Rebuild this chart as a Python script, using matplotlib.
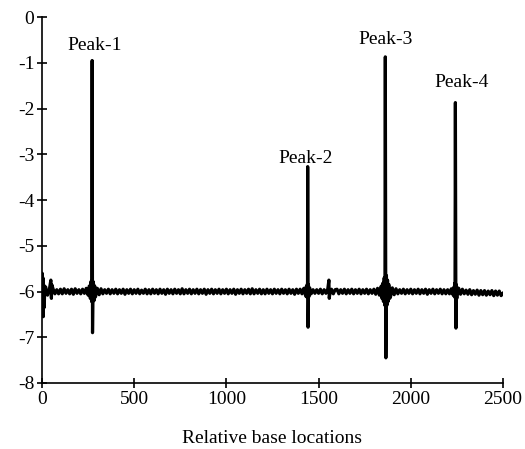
import matplotlib
matplotlib.use("Agg")
import matplotlib.pyplot as plt

plt.rcParams['font.family'] = ['Liberation Serif', 'DejaVu Serif']
plt.rcParams['axes.unicode_minus'] = False

grid_step = 10
grid_y = [
    -6.00, -6.30, -5.90, -6.08, -5.95, -6.06, -5.94, -6.05, -5.96, -6.05,
    -5.95, -6.05, -5.94, -6.04, -5.96, -6.05, -5.95, -6.06, -5.94, -6.04,
    -5.96, -6.05, -5.95, -6.04, -5.93, -6.08, -5.88, -6.15, -5.85, -6.12,
    -5.93, -6.07, -5.94, -6.05, -5.96, -6.04, -5.95, -6.05, -5.96, -6.04,
    -5.95, -6.05, -5.96, -6.04, -5.95, -6.06, -5.96, -6.04, -5.95, -6.05,
    -5.96, -6.04, -5.95, -6.05, -5.97, -6.04, -5.95, -6.05, -5.96, -6.05,
    -5.95, -6.04, -5.96, -6.05, -5.95, -6.04, -5.96, -6.06, -5.95, -6.04,
    -5.96, -6.05, -5.95, -6.04, -5.96, -6.05, -5.94, -6.05, -5.96, -6.04,
    -5.95, -6.05, -5.96, -6.04, -5.95, -6.05, -5.96, -6.04, -5.95, -6.06,
    -5.96, -6.04, -5.95, -6.05, -5.96, -6.04, -5.95, -6.05, -5.96, -6.04,
    -5.95, -6.05, -5.96, -6.04, -5.95, -6.06, -5.96, -6.04, -5.95, -6.05,
    -5.96, -6.04, -5.95, -6.05, -5.94, -6.05, -5.96, -6.04, -5.95, -6.05,
    -5.96, -6.05, -5.95, -6.04, -5.96, -6.05, -5.95, -6.04, -5.96, -6.05,
    -5.95, -6.04, -5.96, -6.05, -5.95, -6.04, -5.96, -6.06, -5.95, -6.04,
    -5.95, -6.05, -5.93, -6.10, -6.08, -5.93, -6.05, -5.96, -6.04, -5.96,
    -6.04, -5.95, -6.05, -5.96, -6.04, -5.94, -6.08, -5.95, -6.05, -5.96,
    -5.95, -6.05, -5.96, -6.04, -5.95, -6.05, -5.96, -6.04, -5.95, -6.05,
    -5.96, -6.04, -5.95, -6.05, -5.96, -6.04, -5.95, -6.05, -5.96, -6.04,
    -5.95, -6.06, -5.93, -6.08, -5.88, -6.15, -5.80, -6.22, -5.85, -6.12,
    -5.92, -6.07, -5.94, -6.05, -5.96, -6.04, -5.95, -6.05, -5.96, -6.04,
    -5.95, -6.05, -5.96, -6.04, -5.95, -6.05, -5.96, -6.04, -5.95, -6.06,
    -5.96, -6.04, -5.95, -6.05, -5.96, -6.04, -5.95, -6.05, -5.96, -6.05,
    -5.96, -6.05, -5.94, -6.08, -5.88, -6.12, -5.93, -6.06, -5.95, -6.05,
    -5.97, -6.06, -5.96, -6.07, -5.98, -6.06, -5.97, -6.08, -5.98, -6.07,
    -5.98, -6.08, -5.99, -6.07, -5.98, -6.09, -5.99, -6.08, -5.99, -6.09,
    -6.04,
]
grid_x = [i * grid_step for i in range(len(grid_y))]

# Spikes and bursts between the sampled points
spike_x = [1, 3, 5, 7, 9, 12, 15, 48, 51, 53,
           256, 262, 266, 269, 272, 274, 277, 282, 286,
           1432, 1436, 1438, 1441, 1443, 1445, 1447, 1452, 1556, 1558,
           1844, 1848, 1852, 1856, 1859, 1862, 1865, 1868, 1871, 1874, 1877, 1882, 1886,
           2234, 2237, 2239, 2242, 2245, 2247, 2250, 2254]
spike_y = [-5.60, -6.50, -5.70, -6.55, -5.85, -6.35, -5.90, -5.75, -6.15, -5.85,
           -5.88, -6.15, -5.78, -6.22, -0.95, -6.90, -5.78, -6.20, -5.88,
           -5.90, -6.12, -5.85, -3.27, -6.78, -5.85, -6.12, -5.92, -5.75, -6.15,
           -6.15, -5.82, -6.22, -5.70, -6.30, -0.87, -7.45, -5.65, -6.30, -5.75, -6.22,
           -5.85, -6.15,
           -5.90, -6.12, -5.82, -1.87, -6.80, -5.85, -6.15, -5.92]

peak_labels = ["Peak-1", "Peak-2", "Peak-3", "Peak-4"]
peak_label_x = [287, 1428, 1862, 2273]
peak_label_y = [-0.62, -3.10, -0.50, -1.42]

points = sorted(zip(grid_x + spike_x, grid_y + spike_y))
trace_x = [p[0] for p in points]
trace_y = [p[1] for p in points]

fig = plt.figure(figsize=(5.25, 4.49), dpi=100)
ax = fig.add_axes([0.08, 0.147, 0.878, 0.815])

ax.plot(trace_x, trace_y, color='black', lw=2.3)

for lab, lx, ly in zip(peak_labels, peak_label_x, peak_label_y):
    ax.text(lx, ly, lab, ha='center', va='center', fontsize=14)

ax.set_xlim(0, 2500)
ax.set_ylim(-8, 0)
ax.set_xticks([0, 500, 1000, 1500, 2000, 2500])
ax.set_yticks([0, -1, -2, -3, -4, -5, -6, -7, -8])
ax.spines['top'].set_visible(False)
ax.spines['right'].set_visible(False)
for s in ('left', 'bottom'):
    ax.spines[s].set_linewidth(1.2)
ax.tick_params(direction='inout', length=7, width=1.2, labelsize=14, pad=2)
ax.set_xlabel('Relative base locations', fontsize=14, labelpad=16)

fig.savefig('out.png', dpi=100)
